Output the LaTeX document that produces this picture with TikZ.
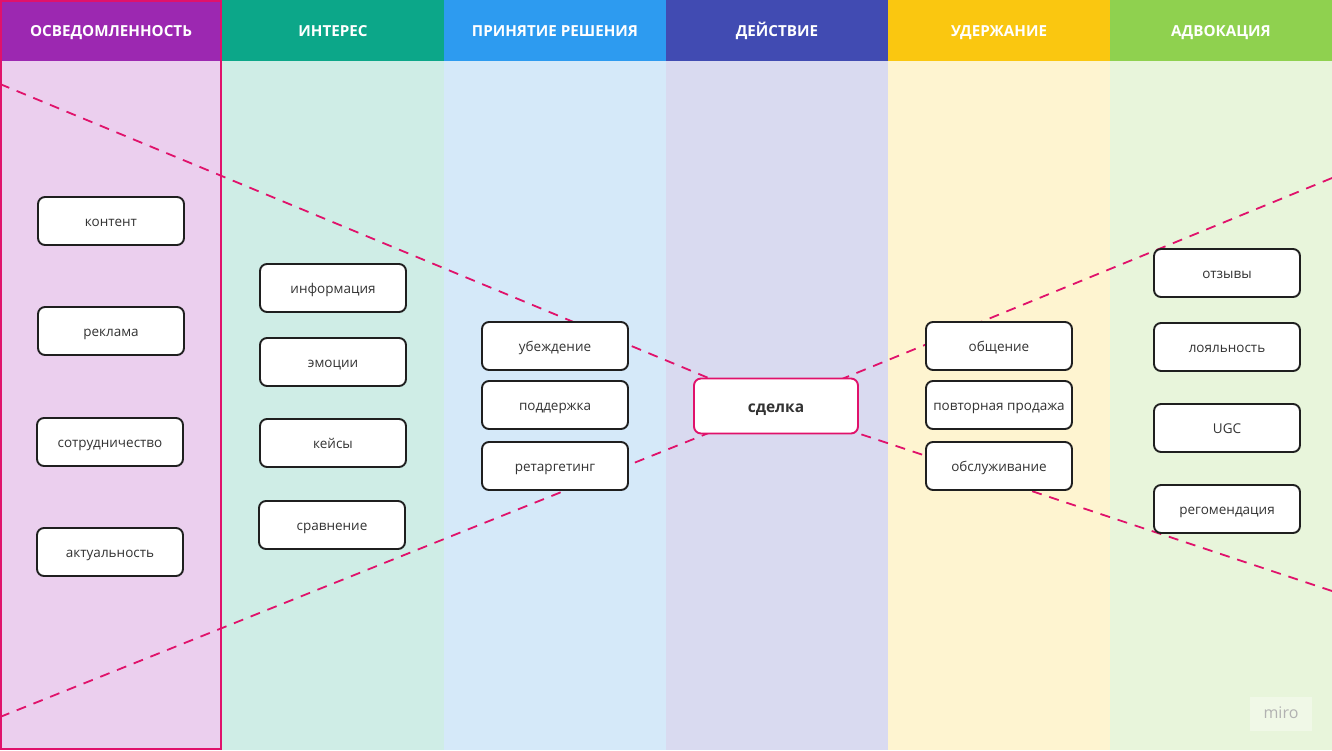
\documentclass[tikz,border=0pt]{standalone}
\usepackage{fontspec}
\setmainfont{Open Sans}
\begin{document}
\begin{tikzpicture}[x=1pt,y=-1pt,
  hdr/.style={font=\fontsize{15.2}{17}\selectfont\bfseries, text=white,
    text height=10.8pt, text depth=0pt, inner sep=0pt},
  card/.style={draw=black!88, line width=1.9pt, fill=white, rounded corners=7pt,
    minimum width=146pt, minimum height=48pt, inner sep=0pt, text=black!80,
    font=\fontsize{13.5}{15}\selectfont, text height=11pt, text depth=0pt},
  deal/.style={draw=dashpink, line width=1.9pt, fill=white, rounded corners=7pt,
    minimum width=164pt, minimum height=55pt, inner sep=0pt, text=black!80,
    font=\fontsize{15.5}{17}\selectfont\bfseries, text height=12.3pt, text depth=0pt},
  dline/.style={draw=dashpink, line width=1.8pt, dash pattern=on 10pt off 8pt}]
\definecolor{dashpink}{HTML}{E0126B}
\definecolor{h1}{HTML}{9C28B1}\definecolor{l1}{HTML}{EBCFEE}
\definecolor{h2}{HTML}{0CA789}\definecolor{l2}{HTML}{CFEDE6}
\definecolor{h3}{HTML}{2D9BF0}\definecolor{l3}{HTML}{D5E9F9}
\definecolor{h4}{HTML}{414BB2}\definecolor{l4}{HTML}{D9DAF0}
\definecolor{h5}{HTML}{FAC710}\definecolor{l5}{HTML}{FEF4D0}
\definecolor{h6}{HTML}{8FD14F}\definecolor{l6}{HTML}{E8F5DB}
\useasboundingbox (0,0) rectangle (1332,750);
% columns
\foreach \i/\h/\l in {0/h1/l1,1/h2/l2,2/h3/l3,3/h4/l4,4/h5/l5,5/h6/l6}{
  \fill[\l] (\i*222,61) rectangle (\i*222+222,750);
  \fill[\h] (\i*222,0) rectangle (\i*222+222,61);
}
\node[hdr] (t1) at (111,31) {ОСВЕДОМЛЕННОСТЬ};
\node[hdr] (t2) at (333,31) {ИНТЕРЕС};
\node[hdr] (t3) at (555,31) {ПРИНЯТИЕ РЕШЕНИЯ};
\node[hdr] (t4) at (777,31) {ДЕЙСТВИЕ};
\node[hdr] (t5) at (999,31) {УДЕРЖАНИЕ};
\node[hdr] (t6) at (1221,31) {АДВОКАЦИЯ};
% highlight first column
\draw[dashpink, line width=2.2pt] (1.1,1.1) rectangle (221,748.9);
% coordinates for dashed lines
\coordinate (ea) at (0,84);
\coordinate (eb) at (0,717);
\coordinate (ec) at (1332,178);
\coordinate (ed) at (1332,591);
\coordinate (dc) at (776,406);
\draw[dline] (ea) -- (dc);
\draw[dline] (eb) -- (dc);
\draw[dline] (ec) -- (dc);
\draw[dline] (ed) -- (dc);
% cards
\node[card] (n11) at (111,221) {контент};
\node[card] (n12) at (111,331) {реклама};
\node[card] (n13) at (110,442) {сотрудничество};
\node[card] (n14) at (110,552) {актуальность};
\node[card] (n21) at (333,288) {информация};
\node[card] (n22) at (333,362) {эмоции};
\node[card] (n23) at (333,443) {кейсы};
\node[card] (n24) at (332,525) {сравнение};
\node[card] (n31) at (555,346) {убеждение};
\node[card] (n32) at (555,405) {поддержка};
\node[card] (n33) at (555,466) {ретаргетинг};
\node[deal] (n41) at (776,406) {сделка};
\node[card] (n51) at (999,346) {общение};
\node[card] (n52) at (999,405) {повторная продажа};
\node[card] (n53) at (999,466) {обслуживание};
\node[card] (n61) at (1227,273) {отзывы};
\node[card] (n62) at (1227,347) {лояльность};
\node[card] (n63) at (1227,428) {UGC};
\node[card] (n64) at (1227,509) {регомендация};
% miro mark
\fill[white, opacity=0.35] (1250,697) rectangle (1312,731);
\node[text=black!30, font=\fontsize{16}{18}\selectfont, text height=8.5pt, text depth=0pt, inner sep=0pt] (logo) at (1281,714) {miro};
\end{tikzpicture}
\end{document}
